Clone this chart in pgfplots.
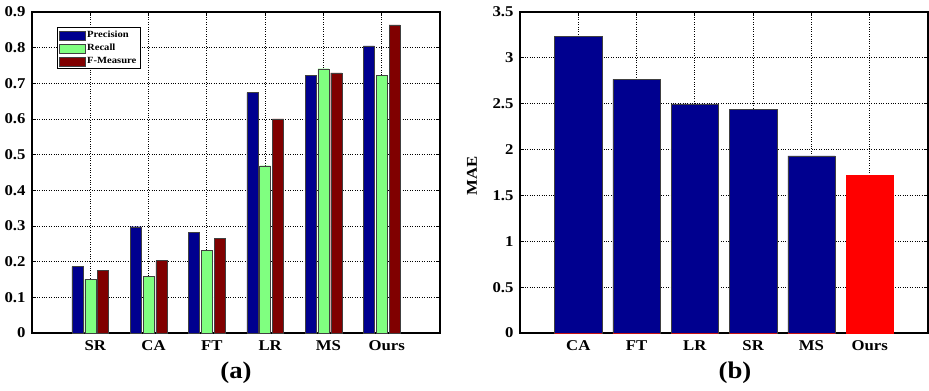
\documentclass[border=0pt]{standalone}
\usepackage{fontspec}
\setmainfont{Liberation Serif}[FakeStretch=1.12]
\usepackage{pgfplots}
\pgfplotsset{compat=1.18}
\definecolor{cblue}{RGB}{0,0,143}
\definecolor{cgreen}{RGB}{128,255,128}
\definecolor{cred}{RGB}{128,0,0}
\definecolor{bred}{RGB}{255,0,0}
\pgfplotsset{
  mystyle/.style={
    scale only axis, width=408bp, height=321bp,
    xmin=0, xmax=7, xtick={1,2,3,4,5,6},
    ymajorgrids, xmajorgrids,
    grid style={black, dotted, line width=0.8pt},
    axis line style={line width=1.4pt},
    tick style={black, line width=0.8pt},
    major tick length=4bp,
    tick align=inside,
    ticklabel style={font=\fontsize{15}{17}\selectfont\bfseries},
    yticklabel style={xshift=-3bp},
    /pgf/number format/assume math mode=true,
    /pgf/number format/fixed,
    clip=false,
  }
}
\begin{document}
\begin{tikzpicture}
\path[use as bounding box] (-32bp,-58bp) rectangle (897bp,333bp);
\begin{axis}[mystyle,
  ymin=0, ymax=0.9, ytick={0,0.1,0.2,0.3,0.4,0.5,0.6,0.7,0.8,0.9},
  xticklabels={SR,CA,FT,LR,MS,Ours},
  xticklabel style={xshift=5bp, yshift=-4bp},
  legend style={at={(0.061,0.952)}, anchor=north west,
    font=\fontsize{9.5}{10}\selectfont\bfseries, draw=black, line width=0.8pt,
    inner sep=1.5pt, row sep=1pt, cells={anchor=west}},
  legend image code/.code={\draw[#1, line width=0.4pt] (0bp,-4.5bp) rectangle (26bp,4.5bp);},
]
\addplot[ybar, bar width=0.19, bar shift=-0.22, fill=cblue, draw=black!75] coordinates {(1,0.186)(2,0.298)(3,0.283)(4,0.674)(5,0.723)(6,0.805)};
\addplot[ybar, bar width=0.19, bar shift=0, fill=cgreen, draw=black!75] coordinates {(1,0.151)(2,0.158)(3,0.232)(4,0.469)(5,0.741)(6,0.723)};
\addplot[ybar, bar width=0.19, bar shift=0.22, fill=cred, draw=black!75] coordinates {(1,0.175)(2,0.203)(3,0.266)(4,0.600)(5,0.729)(6,0.864)};
\legend{Precision,Recall,F-Measure}
\node at ([yshift=-40bp]axis description cs:0.5,0) {\fontsize{24}{26}\selectfont\bfseries (a)};
\end{axis}
\begin{axis}[mystyle, at={(488bp,0)},
  ymin=0, ymax=3.5, ytick={0,0.5,1,1.5,2,2.5,3,3.5},
  xticklabels={CA,FT,LR,SR,MS,Ours},
  xticklabel style={yshift=-4bp},
]
\addplot[ybar, bar width=0.81, fill=cblue, draw=black!75] coordinates {(1,3.235)(2,2.766)(3,2.497)(4,2.44)(5,1.93)};
\addplot[ybar, bar width=0.81, fill=bred, draw=bred] coordinates {(1,0)(2,0)(3,0)(4,0)(5,0)(6,1.72)};
\node[rotate=90] at ([xshift=-48bp]axis description cs:0,0.49) {\fontsize{15}{17}\selectfont\bfseries MAE};
\node at ([yshift=-40bp]axis description cs:0.527,0) {\fontsize{24}{26}\selectfont\bfseries (b)};
\end{axis}
\end{tikzpicture}
\end{document}
